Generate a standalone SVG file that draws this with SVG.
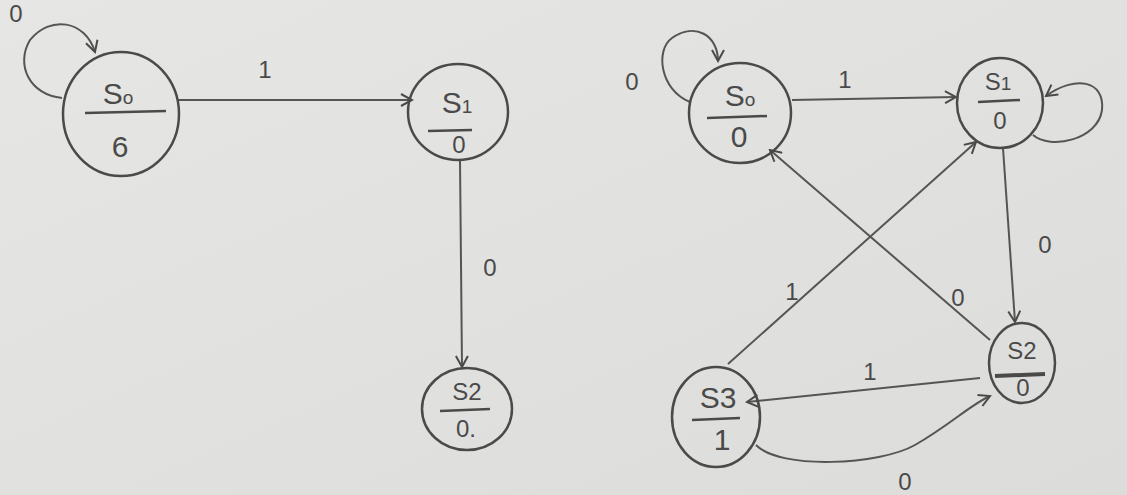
<svg xmlns="http://www.w3.org/2000/svg" width="1127" height="495" viewBox="0 0 1127 495">
<defs>
<marker id="ah" markerWidth="14" markerHeight="14" refX="12" refY="7" orient="auto" markerUnits="userSpaceOnUse">
<path d="M1,1 L12,7 L1,13" fill="none" stroke="#4a4a4a" stroke-width="2"/>
</marker>
<linearGradient id="bg" x1="0" y1="0" x2="1" y2="1">
<stop offset="0" stop-color="#e6e6e4"/>
<stop offset="1" stop-color="#dcdcda"/>
</linearGradient>
</defs>
<style>
.st{fill:none;stroke:#4a4a4a;stroke-width:2.5}
.ed{fill:none;stroke:#555;stroke-width:2}
.tx{font-family:"Liberation Sans",Arial,sans-serif;fill:#4a4a4a;text-anchor:middle}
.nm{font-size:30px}
.lb{font-size:24px}
.sb{font-size:19px}
</style>
<rect width="1127" height="495" fill="url(#bg)"/>
<g id="edges">
<path class="ed" d="M62,98 C30,95 15,65 30,40 C50,15 85,20 95,52" marker-end="url(#ah)"/>
<path class="ed" d="M178,100 L412,100" marker-end="url(#ah)"/>
<path class="ed" d="M460,160 L462,367" marker-end="url(#ah)"/>
<path class="ed" d="M690,102 C660,90 655,50 672,38 C695,22 718,35 718,61" marker-end="url(#ah)"/>
<path class="ed" d="M792,100 L956,97" marker-end="url(#ah)"/>
<path class="ed" d="M1033,135 C1050,150 1098,140 1102,110 C1105,80 1075,75 1046,96" marker-end="url(#ah)"/>
<path class="ed" d="M1003,148 L1015,322" marker-end="url(#ah)"/>
<path class="ed" d="M990,340 L770,150" marker-end="url(#ah)"/>
<path class="ed" d="M728,364 L976,142" marker-end="url(#ah)"/>
<path class="ed" d="M980,378 L747,402" marker-end="url(#ah)"/>
<path class="ed" d="M756,445 C780,470 880,465 915,445 C950,425 970,405 990,396" marker-end="url(#ah)"/>
<text class="tx lb" x="16" y="22">0</text>
<text class="tx lb" x="265" y="78">1</text>
<text class="tx lb" x="490" y="276">0</text>
<text class="tx lb" x="632" y="90">0</text>
<text class="tx lb" x="845" y="88">1</text>
<text class="tx lb" x="1045" y="253">0</text>
<text class="tx lb" x="958" y="306">0</text>
<text class="tx lb" x="792" y="300">1</text>
<text class="tx lb" x="870" y="380">1</text>
<text class="tx lb" x="905" y="490">0</text>
</g>
<g id="L_S0">
<ellipse class="st" cx="121" cy="114" rx="58" ry="62"/>
<text class="tx nm" x="118" y="104">S<tspan class="sb" dy="0">o</tspan></text>
<line class="st" x1="85" y1="113" x2="166" y2="111"/>
<text class="tx nm" x="120" y="157">6</text>
</g>
<g id="L_S1">
<ellipse class="st" cx="458" cy="112" rx="50" ry="48"/>
<text class="tx nm" x="457" y="113">S<tspan class="sb" dy="0">1</tspan></text>
<line class="st" x1="428" y1="131" x2="472" y2="130"/>
<text class="tx lb" x="459" y="153">0</text>
</g>
<g id="L_S2">
<ellipse class="st" cx="467" cy="409" rx="45" ry="41"/>
<text class="tx lb" x="467" y="400">S2</text>
<line class="st" x1="440" y1="411" x2="490" y2="409"/>
<text class="tx lb" x="466" y="437">0.</text>
</g>
<g id="R_S0">
<ellipse class="st" cx="740" cy="113" rx="51" ry="50"/>
<text class="tx nm" x="740" y="106">S<tspan class="sb">o</tspan></text>
<line class="st" x1="707" y1="118" x2="767" y2="116"/>
<text class="tx nm" x="739" y="147">0</text>
</g>
<g id="R_S1">
<ellipse class="st" cx="1000" cy="103" rx="43" ry="45"/>
<text class="tx lb" x="998" y="90">S<tspan class="sb">1</tspan></text>
<line class="st" x1="978" y1="102" x2="1020" y2="100"/>
<text class="tx lb" x="1000" y="129">0</text>
</g>
<g id="R_S2">
<ellipse class="st" cx="1022" cy="363" rx="33" ry="40"/>
<text class="tx lb" x="1022" y="359">S2</text>
<line class="st" x1="995" y1="376" x2="1045" y2="374" style="stroke-width:4"/>
<text class="tx lb" x="1023" y="396">0</text>
</g>
<g id="R_S3">
<ellipse class="st" cx="716" cy="417" rx="44" ry="50"/>
<text class="tx nm" x="718" y="408">S3</text>
<line class="st" x1="692" y1="420" x2="740" y2="418"/>
<text class="tx nm" x="722" y="450">1</text>
</g>
</svg>
